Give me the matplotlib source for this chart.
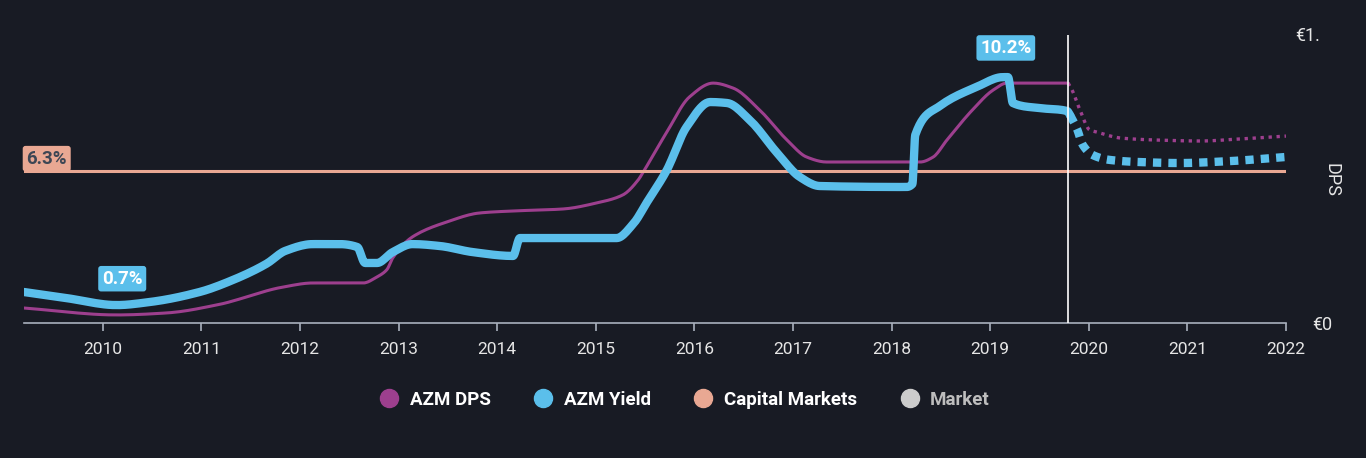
import numpy as np
import matplotlib.pyplot as plt
from matplotlib.lines import Line2D

# AZM dividend per share (EUR), historical
dps_years = [2009.20, 2010.14, 2010.65, 2011.16, 2011.83, 2012.13, 2012.64, 2012.78,
             2012.88, 2012.94, 2013.14, 2013.49, 2013.82, 2014.16, 2014.67, 2015.01,
             2015.27, 2015.43, 2015.48, 2015.72, 2015.95, 2016.19, 2016.39, 2016.66,
             2016.94, 2017.14, 2017.34, 2018.29, 2018.42, 2018.56, 2018.82, 2019.03,
             2019.17, 2019.79]
dps_values = [0.052, 0.028, 0.035, 0.063, 0.125, 0.139, 0.139, 0.160,
              0.185, 0.226, 0.299, 0.351, 0.382, 0.389, 0.396, 0.417,
              0.444, 0.497, 0.524, 0.663, 0.785, 0.833, 0.816, 0.740,
              0.635, 0.576, 0.559, 0.559, 0.576, 0.635, 0.740, 0.809,
              0.833, 0.833]

# AZM DPS forecast
dps_fc_years = [2019.79, 2019.83, 2019.91, 2020.01, 2020.08, 2020.33, 2020.72, 2021.13,
                2021.53, 2022.00]
dps_fc_values = [0.833, 0.809, 0.740, 0.670, 0.663, 0.642, 0.635, 0.632, 0.639, 0.649]

# AZM dividend yield (%), historical
yield_years = [2009.20, 2009.63, 2010.14, 2010.48, 2010.98, 2011.32, 2011.66, 2011.85,
               2012.13, 2012.40, 2012.58, 2012.66, 2012.78, 2012.94, 2013.14, 2013.42,
               2013.75, 2014.16, 2014.23, 2014.67, 2015.21, 2015.38, 2015.52, 2015.72,
               2015.92, 2016.16, 2016.33, 2016.56, 2016.84, 2017.07, 2017.27, 2018.15,
               2018.21, 2018.24, 2018.49, 2018.86, 2019.13, 2019.18, 2019.23, 2019.50,
               2019.78, 2019.81]
yield_values = [1.28, 1.03, 0.74, 0.87, 1.28, 1.78, 2.45, 2.98,
                3.26, 3.26, 3.14, 2.48, 2.48, 2.93, 3.26, 3.18,
                2.93, 2.77, 3.51, 3.51, 3.51, 4.10, 5.00, 6.32,
                8.10, 9.13, 9.09, 8.39, 7.02, 6.03, 5.66, 5.62,
                5.74, 7.77, 8.97, 9.75, 10.16, 10.16, 9.09, 8.88,
                8.76, 8.59]

# AZM yield forecast
yield_fc_years = [2019.81, 2019.88, 2019.94, 2020.04, 2020.21, 2020.52, 2020.92, 2021.43,
                  2022.00]
yield_fc_values = [8.59, 8.02, 7.35, 6.94, 6.74, 6.65, 6.61, 6.69, 6.86]

market_yield = 6.3  # Capital Markets
today = 2019.79
year_ticks = list(range(2010, 2023))

BG = "#181b24"
PURPLE = "#9d3f8e"
BLUE = "#5bbfeb"
SALMON = "#e9a893"
GREY = "#cccccc"
TEXT = "#e6e6e6"
AXIS = "#a9b0bd"


def monotone_curve(xs, ys, n=12):
    # draw a monotone cubic (like d3 curveMonotoneX) through the points
    x = np.asarray(xs, float)
    y = np.asarray(ys, float)
    h = np.diff(x)
    d = np.diff(y) / h
    m = np.zeros_like(y)
    m[0], m[-1] = d[0], d[-1]
    for i in range(1, len(x) - 1):
        if d[i - 1] * d[i] > 0:
            w1 = 2 * h[i] + h[i - 1]
            w2 = h[i] + 2 * h[i - 1]
            m[i] = (w1 + w2) / (w1 / d[i - 1] + w2 / d[i])
    px, py = [x[0]], [y[0]]
    for i in range(len(x) - 1):
        t = np.linspace(0, 1, n + 1)[1:]
        h00 = 2 * t**3 - 3 * t**2 + 1
        h10 = t**3 - 2 * t**2 + t
        h01 = -2 * t**3 + 3 * t**2
        h11 = t**3 - t**2
        px.extend(x[i] + t * h[i])
        py.extend(h00 * y[i] + h10 * h[i] * m[i] + h01 * y[i + 1] + h11 * h[i] * m[i + 1])
    return np.array(px), np.array(py)


plt.rcParams["font.family"] = ["Roboto", "DejaVu Sans"]

fig = plt.figure(figsize=(13.66, 4.58), dpi=100, facecolor=BG)
ax = fig.add_axes([24 / 1366, 1 - 323 / 458, (1286 - 24) / 1366, (323 - 35) / 458])
ax.set_facecolor(BG)
ax2 = ax.twinx()

# DPS on the main axis
ax.plot(*monotone_curve(dps_years, dps_values), color=PURPLE, lw=2.2,
        solid_joinstyle="round", solid_capstyle="round", zorder=3)
ax.plot(*monotone_curve(dps_fc_years, dps_fc_values), color=PURPLE, lw=2.4,
        linestyle=(0, (1.0, 1.4)), dash_capstyle="butt", zorder=3)
ax.set_ylim(0, 1.0)
ax.set_xlim(2009.20, 2022.0)

# Yield on the twin axis
ax2.axhline(market_yield, color=SALMON, lw=2.2, zorder=2)
ax2.plot(*monotone_curve(yield_years, yield_values), color=BLUE, lw=6,
         solid_joinstyle="round", solid_capstyle="round", zorder=4)
ax2.plot(*monotone_curve(yield_fc_years, yield_fc_values), color=BLUE, lw=6,
         linestyle=(0, (1.0, 0.85)), dash_capstyle="butt", zorder=4)
ax2.set_ylim(0, 11.9)
ax2.axvline(today, color="white", lw=1.2, zorder=5)

# labels
ax2.text(2009.225, market_yield + 0.12, "6.3%", color="#3d4654", fontsize=13.5,
         fontweight="bold", ha="left", va="bottom", zorder=6,
         bbox=dict(boxstyle="round,pad=0.2,rounding_size=0.15", fc=SALMON, ec="none"))
i_min = int(np.argmin(yield_values))
ax2.annotate(f"{yield_values[i_min]:.1f}%", (yield_years[i_min], yield_values[i_min]),
             xytext=(4, 19), textcoords="offset points", color="white", fontsize=13.5,
             fontweight="bold", ha="center", va="center", zorder=6,
             bbox=dict(boxstyle="round,pad=0.2,rounding_size=0.15", fc=BLUE, ec="none"))
i_max = int(np.argmax(yield_values))
ax2.annotate(f"{max(yield_values):.1f}%", (yield_years[i_max], yield_values[i_max]),
             xytext=(2, 21), textcoords="offset points", color="white", fontsize=13.5,
             fontweight="bold", ha="center", va="center", zorder=6,
             bbox=dict(boxstyle="round,pad=0.2,rounding_size=0.15", fc=BLUE, ec="none"))

# axes styling
for a in (ax, ax2):
    for side in ("top", "left", "right"):
        a.spines[side].set_visible(False)
    a.set_yticks([])
ax.spines["bottom"].set_color(AXIS)
ax.spines["bottom"].set_linewidth(1.2)
ax2.spines["bottom"].set_visible(False)
ax.set_xticks(year_ticks)
ax.set_xticklabels([str(y) for y in year_ticks])
ax.tick_params(axis="x", colors=AXIS, length=6, width=1.2, labelsize=12.5,
               labelcolor=TEXT, pad=8)

fig.text(1295 / 1366, 1 - 36 / 458, "€1.", color=TEXT, fontsize=13, ha="left", va="center")
fig.text(1312 / 1366, 1 - 325 / 458, "€0", color=TEXT, fontsize=13, ha="left", va="center")
fig.text(1331 / 1366, 1 - 180 / 458, "DPS", color=TEXT, fontsize=13, rotation=270,
         ha="center", va="center")

# legend
handles = [Line2D([], [], marker="o", ls="", ms=13, mfc=c, mec=c)
           for c in (PURPLE, BLUE, SALMON, GREY)]
names = ["AZM DPS", "AZM Yield", "Capital Markets", "Market"]
leg = fig.legend(handles, names, loc="center", bbox_to_anchor=(0.501, 1 - 400 / 458),
                 ncol=4, frameon=False, fontsize=13.5, handletextpad=0.55,
                 columnspacing=2.25, handlelength=1.1)
for t, c in zip(leg.get_texts(), ["white", "white", "white", "#bdbdbd"]):
    t.set_color(c)
    t.set_fontweight("bold")

fig.savefig("out.png", dpi=100, facecolor=BG)
